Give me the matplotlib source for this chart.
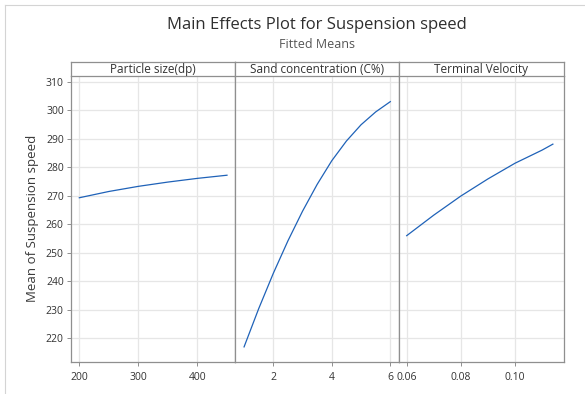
import matplotlib
matplotlib.use('Agg')
import matplotlib.pyplot as plt
from matplotlib.lines import Line2D

plt.rcParams['font.family'] = ['Open Sans', 'DejaVu Sans']

# fitted means
particle_x = [200, 250, 300, 350, 400, 450]
particle_y = [269.3, 271.5, 273.3, 274.8, 276.1, 277.2]

sand_x = [1, 1.5, 2, 2.5, 3, 3.5, 4, 4.5, 5, 5.5, 6]
sand_y = [217.0, 230.4, 242.8, 254.2, 264.6, 274.0, 282.3, 289.2, 294.9, 299.4, 303.0]

tv_x = [0.06, 0.07, 0.08, 0.09, 0.10, 0.11, 0.114]
tv_y = [256.0, 263.2, 269.9, 275.9, 281.4, 286.0, 288.1]

panel_titles = ['Particle size(dp)', 'Sand concentration (C%)', 'Terminal Velocity']
xticks = [[200, 300, 400], [2, 4, 6], [0.06, 0.08, 0.10]]
xticklabels = [['200', '300', '400'], ['2', '4', '6'], ['0.06', '0.08', '0.10']]
xlims = [(185.4, 462.7), (0.673, 6.287), (0.05705, 0.118)]
yticks = [220, 230, 240, 250, 260, 270, 280, 290, 300, 310]

W, H = 585, 394
fig = plt.figure(figsize=(W / 100, H / 100), dpi=100)

def fx(px):
    return px / W

def fy(py):
    return 1 - py / H

# light frame (left and top edges) of the graph window
fig.lines.append(Line2D([fx(4.5), fx(4.5)], [0, fy(5)], transform=fig.transFigure,
                        color='#d4d4d4', linewidth=0.8))
fig.lines.append(Line2D([fx(4.5), 1], [fy(5), fy(5)], transform=fig.transFigure,
                        color='#d4d4d4', linewidth=0.8))

edges = [70.7, 234.5, 398.7, 563.7]
top, bottom, strip_top = 75.7, 362.0, 62.3
line_color = '#1f62b8'
frame_color = '#8f8f8f'

data = [(particle_x, particle_y), (sand_x, sand_y), (tv_x, tv_y)]
for i in range(3):
    l, r = edges[i], edges[i + 1]
    ax = fig.add_axes([fx(l), fy(bottom), fx(r - l), fy(top) - fy(bottom)])
    ax.plot(data[i][0], data[i][1], color=line_color, linewidth=0.9)
    ax.set_xlim(xlims[i])
    ax.set_ylim(211.7, 312.1)
    ax.set_xticks(xticks[i])
    ax.set_xticklabels(xticklabels[i])
    ax.set_yticks(yticks)
    ax.grid(True, color='#e6e6e6', linewidth=0.9)
    ax.set_axisbelow(True)
    for s in ax.spines.values():
        s.set_color(frame_color)
        s.set_linewidth(0.9)
    ax.spines['top'].set_visible(False)
    ax.tick_params(axis='x', length=3, width=0.7, color=frame_color, labelsize=7.5,
                   labelcolor='#333333', pad=4)
    if i == 0:
        ax.tick_params(axis='y', length=3, width=0.7, color=frame_color, labelsize=7.5,
                       labelcolor='#333333', pad=2)
        ax.set_ylabel('Mean of Suspension speed', fontsize=9.5, color='#3a3a3a', labelpad=5)
    else:
        ax.tick_params(axis='y', length=0, labelleft=False)

    sax = fig.add_axes([fx(l), fy(top), fx(r - l), fy(strip_top) - fy(top)])
    sax.set_xticks([])
    sax.set_yticks([])
    for s in sax.spines.values():
        s.set_color(frame_color)
        s.set_linewidth(0.9)
    sax.text(0.5, 0.45, panel_titles[i], ha='center', va='center', fontsize=8.5,
             color='#333333', transform=sax.transAxes)

cx = fx((edges[0] + edges[-1]) / 2)
fig.text(cx, fy(25), 'Main Effects Plot for Suspension speed', ha='center', va='center',
         fontsize=12, color='#2e2e2e')
fig.text(cx, fy(44), 'Fitted Means', ha='center', va='center', fontsize=9, color='#555555')

fig.savefig('out.png', dpi=100)
